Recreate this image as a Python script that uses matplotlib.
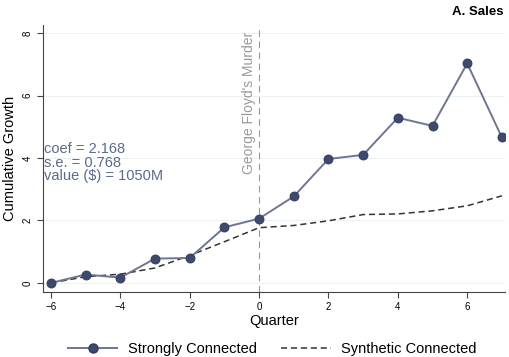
import matplotlib.pyplot as plt
from matplotlib.lines import Line2D

plt.rcParams['font.family'] = ['Liberation Sans', 'DejaVu Sans']

quarters = [-6, -5, -4, -3, -2, -1, 0, 1, 2, 3, 4, 5, 6, 7]
strong = [0.0, 0.27, 0.17, 0.78, 0.80, 1.78, 2.06, 2.77, 3.97, 4.10, 5.29, 5.03, 7.03, 4.66]
synthetic = [0.0, 0.20, 0.28, 0.48, 0.88, 1.32, 1.77, 1.84, 1.99, 2.19, 2.21, 2.31, 2.47, 2.79]
yticks = [0, 2, 4, 6, 8]
xticks = [-6, -4, -2, 0, 2, 4, 6]

fig = plt.figure(figsize=(5.09, 3.57), dpi=100)
ax = fig.add_axes([43 / 509, 65 / 357, 462 / 509, 267 / 357])

for y in yticks:
    ax.axhline(y, color='#eaf2f3', lw=0.8, zorder=0)

ax.axvline(0, color='#999999', lw=0.8, ls=(0, (6, 4)), zorder=1)
ax.text(-0.08, 8.05, "George Floyd's Murder", rotation=90, ha='right', va='top',
        color='#9a9a9a', fontsize=10)

ax.plot(quarters, synthetic, color='#333333', lw=1.1, ls=(0, (4, 2.5)), zorder=2)
ax.plot(quarters, strong, color='#6e7691', lw=1.4, zorder=3,
        marker='o', ms=6.5, mfc='#3e4a6c', mec='#2e3a5c', mew=0.6)

ax.text(-6.2, 4.5, 'coef = 2.168\ns.e. = 0.768\nvalue ($) = 1050M',
        color='#5d6a8c', fontsize=10.5, va='top', ha='left', linespacing=0.95)

ax.set_xlim(-6.23, 7.09)
ax.set_ylim(-0.29, 8.26)
ax.set_xticks(xticks)
ax.set_yticks(yticks)
ax.set_yticklabels([str(v) for v in yticks], rotation=90, va='center')
ax.tick_params(labelsize=7, length=4, width=0.8, color='#444444')
ax.spines['top'].set_visible(False)
ax.spines['right'].set_visible(False)
ax.spines['left'].set_color('#444444')
ax.spines['bottom'].set_color('#444444')
ax.set_xlabel('Quarter', fontsize=10.5, labelpad=1)
ax.set_ylabel('Cumulative Growth', fontsize=10.5, labelpad=4)

fig.text(0.99, 0.965, 'A. Sales', ha='right', va='center', fontsize=9.5, fontweight='bold')

handles = [
    Line2D([], [], color='#6e7691', lw=1.4, marker='o', ms=6.5, mfc='#3e4a6c', mec='#2e3a5c'),
    Line2D([], [], color='#333333', lw=1.1, ls=(0, (4, 2.5))),
]
fig.legend(handles, ['Strongly Connected', 'Synthetic Connected'], loc='center',
           bbox_to_anchor=(0.535, 0.022), ncol=2, frameon=False, fontsize=10.5,
           handlelength=3.4, handletextpad=0.7, columnspacing=1.7,
           borderpad=0, borderaxespad=0)

fig.savefig('out.png', dpi=100)
